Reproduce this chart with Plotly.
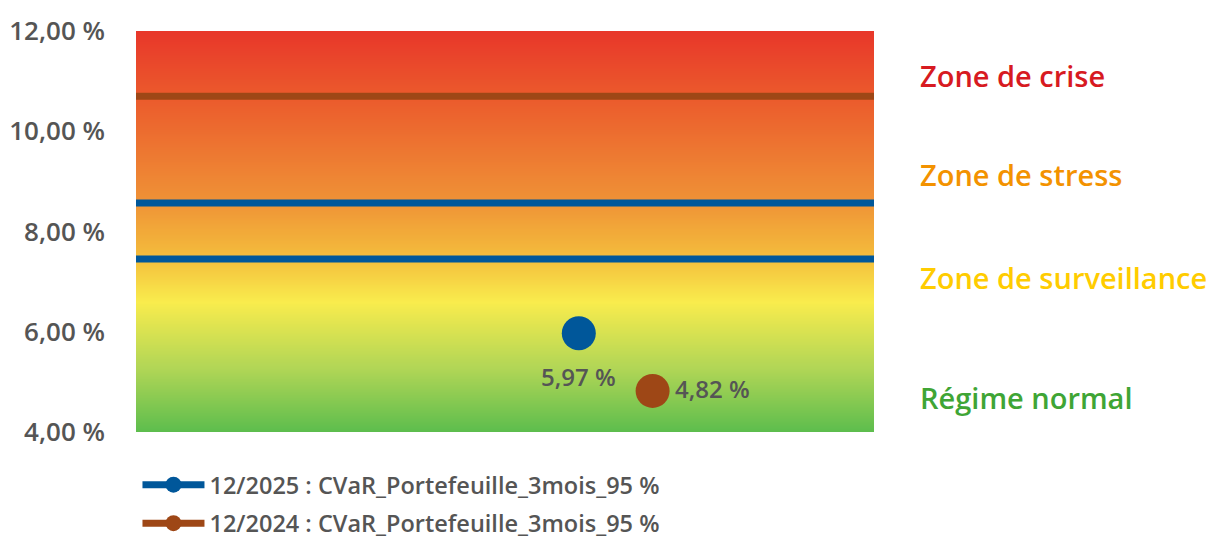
import numpy as np
import plotly.graph_objects as go

# ---- data ----
series_names = ["12/2025 : CVaR_Portefeuille_3mois_95 %", "12/2024 : CVaR_Portefeuille_3mois_95 %"]
series_values = [5.97, 4.82]
series_labels = ["5,97 %", "4,82 %"]
series_x = [6.0, 7.0]
series_colors = ["#00579a", "#9e4716"]

threshold_values = [10.70, 8.57, 7.45]
threshold_series = [1, 0, 0]  # index into series colors

zone_names = ["Zone de crise", "Zone de stress", "Zone de surveillance", "Régime normal"]
zone_label_y = [11.12, 9.14, 7.08, 4.68]
zone_colors = ["#d71a21", "#f39200", "#ffcc00", "#3fa535"]

tick_vals = [4, 6, 8, 10, 12]
tick_text = ["4,00 %", "6,00 %", "8,00 %", "10,00 %", "12,00 %"]

y_min, y_max = 4, 12
x_min, x_max = 0, 10

# gradient stops (value, colour)
grad_stops = [(4.0, "#5cbd4d"), (5.3, "#b2d656"), (6.6, "#f9ec4d"), (7.5, "#f4bd3c"),
              (8.6, "#ef9236"), (10.7, "#eb5a2c"), (12.0, "#e8372a")]

FONT = "Open Sans"
TXT = "#555555"

fig = go.Figure()

# background gradient via heatmap
gy = np.linspace(y_min, y_max, 200)
z = np.column_stack([gy, gy])
cs = [[(v - y_min) / (y_max - y_min), c] for v, c in grad_stops]
fig.add_trace(go.Heatmap(x=[x_min, x_max], y=gy, z=z, colorscale=cs, zmin=y_min, zmax=y_max,
                         showscale=False, hoverinfo="skip", zsmooth="best"))

# threshold lines
for v, si in zip(threshold_values, threshold_series):
    fig.add_trace(go.Scatter(x=[x_min, x_max], y=[v, v], mode="lines",
                             line=dict(color=series_colors[si], width=7),
                             showlegend=False, hoverinfo="skip"))

# series points
for i, (name, xv, yv, col) in enumerate(zip(series_names, series_x, series_values, series_colors)):
    fig.add_trace(go.Scatter(x=[xv], y=[yv], mode="lines+markers", name=name,
                             legendgroup=f"g{i}",
                             line=dict(color=col, width=7),
                             marker=dict(color=col, size=34)))

# value labels
label_shifts = [dict(xanchor="center", xshift=0, yshift=-43), dict(xanchor="left", xshift=20, yshift=2)]
for xv, yv, lab, sh in zip(series_x, series_values, series_labels, label_shifts):
    fig.add_annotation(x=xv, y=yv, text=lab, showarrow=False, yanchor="middle", **sh,
                       font=dict(family=FONT, size=24, color=TXT, weight=600))

for name, yv, col in zip(zone_names, zone_label_y, zone_colors):
    fig.add_annotation(x=1.06, xref="paper", y=yv, yref="y", text=name, showarrow=False,
                       xanchor="left", yanchor="middle",
                       font=dict(family=FONT, size=29, color=col, weight=600))

fig.update_xaxes(range=[x_min, x_max], visible=False, fixedrange=True)
fig.update_yaxes(range=[y_min, y_max], tickvals=tick_vals, ticktext=tick_text, showgrid=False,
                 zeroline=False, ticks="", ticklabelstandoff=30,
                 tickfont=dict(family=FONT, size=26, color=TXT, weight=600))

fig.update_layout(
    width=1213, height=560,
    margin=dict(l=136, r=339, t=31, b=128, autoexpand=False),
    paper_bgcolor="white", plot_bgcolor="white",
    legend=dict(x=0.002, y=-0.077, xanchor="left", yanchor="top", orientation="v",
                font=dict(family=FONT, size=23.5, color=TXT, weight=600),
                tracegroupgap=5, itemwidth=62),
)

fig.write_html("out.html", config={"displayModeBar": False},
               post_script="document.body.style.margin='0';document.body.style.overflow='hidden';")
